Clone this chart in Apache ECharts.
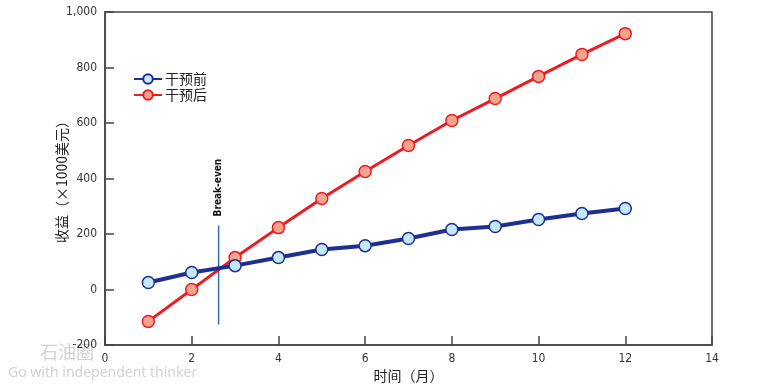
<!DOCTYPE html>
<html><head><meta charset="utf-8">
<script src="https://cdn.jsdelivr.net/npm/echarts@6/dist/echarts.min.js"></script>
<style>html,body{margin:0;padding:0;background:#fff}#c{width:775px;height:388px}</style>
</head><body><div id="c"></div>
<script>
const months = [1,2,3,4,5,6,7,8,9,10,11,12];
const beforeVals = [25,61,86,115,144,158,184,216,227,252,274,292];
const afterVals = [-115,0,115,223,328,425,519,609,688,768,847,922];
const seriesNames = ['干预前','干预后'];
const breakEvenX = 2.62;
const breakEvenRange = [231,-126];
const breakEvenLabel = 'Break-even';
const xAxisName = '时间（月）';
const yAxisName = '收益（×1000美元）';

const chart = echarts.init(document.getElementById('c'));
const lblFont = '"DejaVu Sans Condensed","Liberation Sans Narrow",sans-serif';
chart.setOption({
  animation:false,
  backgroundColor:'#fff',
  grid:{left:105,right:63,top:12,bottom:43,show:true,borderColor:'#444',borderWidth:1.5},
  legend:{
    left:128, top:67, orient:'vertical', itemGap:2, itemWidth:28, itemHeight:12,
    textStyle:{fontSize:14,color:'#222',fontFamily:'"Noto Sans CJK SC",sans-serif',padding:[0,0,0,-2]},
    data:seriesNames
  },
  xAxis:{
    type:'value', min:0, max:14, interval:2,
    name:xAxisName, nameLocation:'middle', nameGap:24, nameMoveOverlap:false,
    nameTextStyle:{fontSize:14,color:'#222',fontFamily:'"Noto Sans CJK SC",sans-serif'},
    axisLine:{onZero:false,lineStyle:{color:'#444',width:1.5}},
    axisTick:{inside:true,length:9,lineStyle:{color:'#444',width:1.5}},
    axisLabel:{color:'#333',fontSize:12,fontFamily:lblFont,margin:8},
    splitLine:{show:false}
  },
  yAxis:{
    type:'value', min:-200, max:1000, interval:200,
    name:yAxisName, nameLocation:'middle', nameGap:36, nameRotate:90, nameMoveOverlap:false,
    nameTextStyle:{fontSize:14,color:'#222',fontFamily:'"Noto Sans CJK SC",sans-serif'},
    axisLine:{onZero:false,lineStyle:{color:'#444',width:1.5}},
    axisTick:{inside:true,length:9,lineStyle:{color:'#444',width:1.5}},
    axisLabel:{color:'#333',fontSize:12,fontFamily:lblFont,margin:8,
      formatter:v=>v.toLocaleString('en-US')},
    splitLine:{show:false}
  },
  series:[
    {
      name:'BreakEven', type:'line', silent:true, symbol:'none',
      data:[[breakEvenX,breakEvenRange[0]],[breakEvenX,breakEvenRange[1]]],
      lineStyle:{color:'#3a6fb5',width:1.5}, z:1,
      markPoint:{
        symbol:'circle', symbolSize:0,
        data:[{coord:[breakEvenX,breakEvenRange[0]]}],
        label:{show:true,formatter:breakEvenLabel,rotate:90,position:'top',distance:9,
          align:'left',verticalAlign:'middle',
          fontSize:10,fontWeight:'bold',color:'#111',fontFamily:lblFont}
      }
    },
    {
      name:seriesNames[0], type:'line', data:months.map((m,i)=>[m,beforeVals[i]]),
      symbol:'circle', symbolSize:12,
      lineStyle:{color:'#1e2e92',width:4},
      itemStyle:{color:'#c3e8f8',borderColor:'#1e2e92',borderWidth:1.5},
      z:3
    },
    {
      name:seriesNames[1], type:'line', data:months.map((m,i)=>[m,afterVals[i]]),
      symbol:'circle', symbolSize:12,
      lineStyle:{color:'#ea1c24',width:3},
      itemStyle:{color:'#f4a48c',borderColor:'#ea1c24',borderWidth:1.5},
      z:2
    }
  ],
  graphic:[
    {type:'text',left:40,top:343,style:{text:'石油圈',fontSize:18,fill:'rgba(180,180,180,0.6)',fontFamily:'"Noto Sans CJK SC",sans-serif'}},
    {type:'text',left:8,top:366,style:{text:'Go with independent thinker',fontSize:14,fill:'rgba(180,180,180,0.6)',fontFamily:'"Noto Sans",sans-serif'}}
  ]
});
</script></body></html>
